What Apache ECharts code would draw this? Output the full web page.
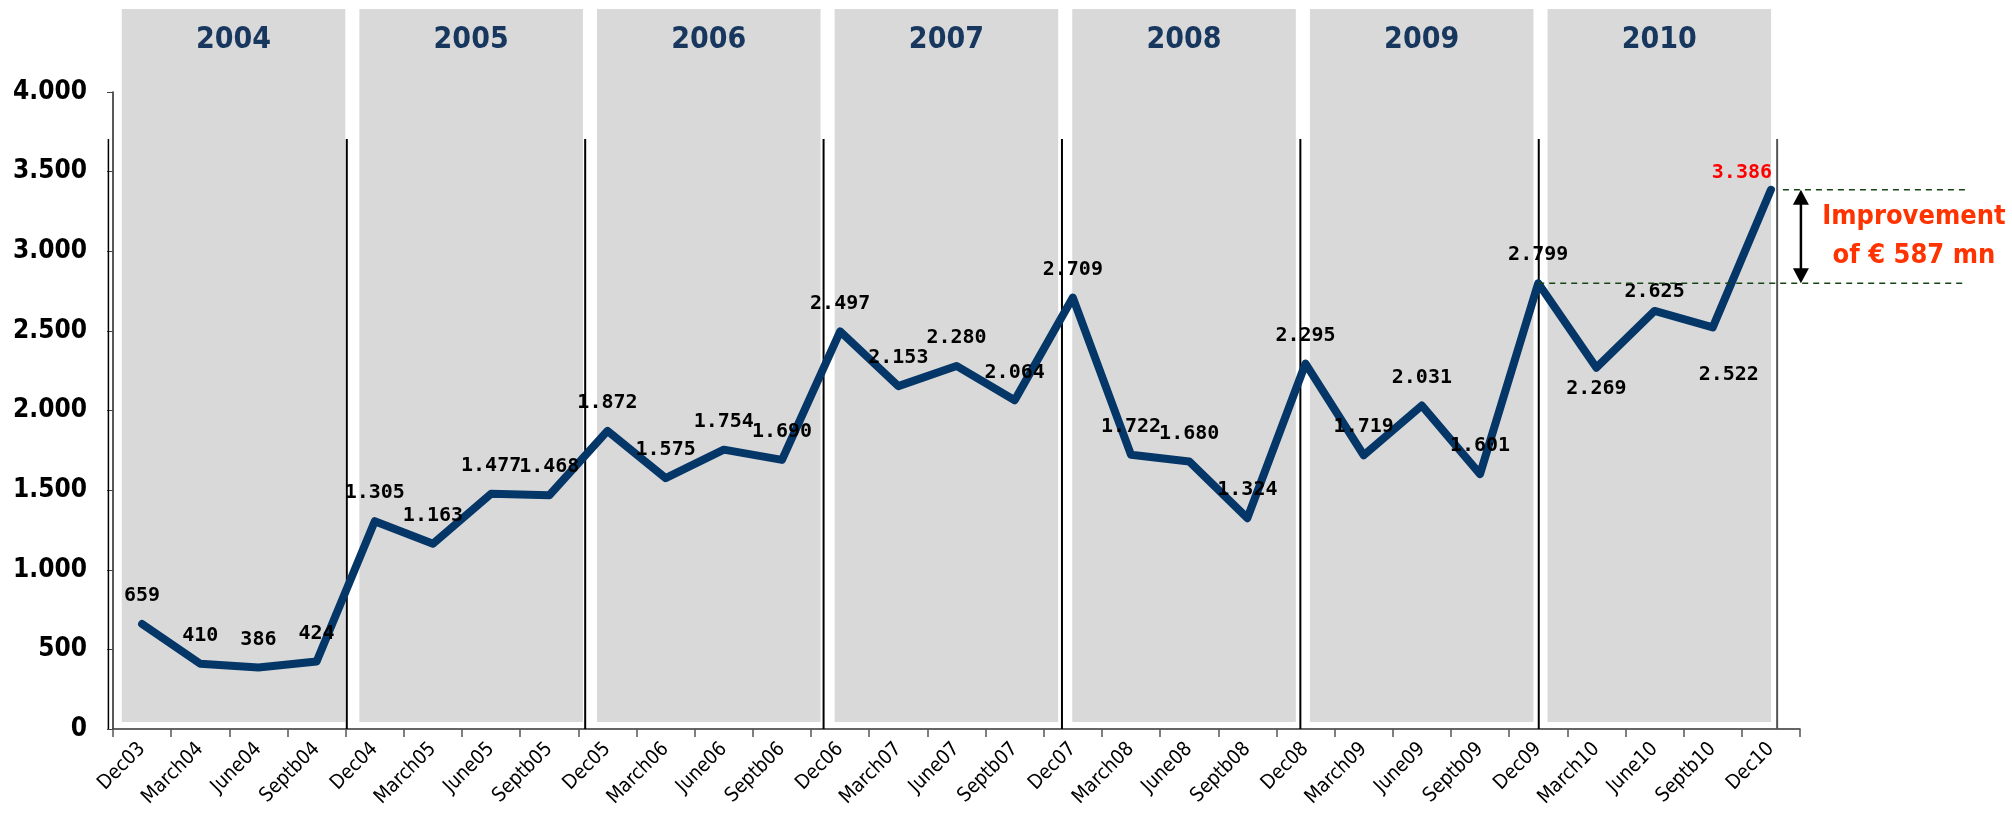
<!DOCTYPE html>
<html>
<head>
<meta charset="utf-8">
<script src="https://cdn.jsdelivr.net/npm/echarts@6/dist/echarts.min.js"></script>
<style>
  html, body { margin: 0; padding: 0; background: #fff; }
  #chart { width: 2012px; height: 819px; }
</style>
</head>
<body>
<div id="chart"></div>
<script>
// quarters on the x axis
const quarters = [
  'Dec03', 'March04', 'June04', 'Septb04',
  'Dec04', 'March05', 'June05', 'Septb05',
  'Dec05', 'March06', 'June06', 'Septb06',
  'Dec06', 'March07', 'June07', 'Septb07',
  'Dec07', 'March08', 'June08', 'Septb08',
  'Dec08', 'March09', 'June09', 'Septb09',
  'Dec09', 'March10', 'June10', 'Septb10',
  'Dec10'
];
// values
const values = [
  659, 410, 386, 424,
  1305, 1163, 1477, 1468,
  1872, 1575, 1754, 1690,
  2497, 2153, 2280, 2064,
  2709, 1722, 1680, 1324,
  2295, 1719, 2031, 1601,
  2799, 2269, 2625, 2522,
  3386
];
const years = ['2004', '2005', '2006', '2007', '2008', '2009', '2010'];
const yTicks = [0, 500, 1000, 1500, 2000, 2500, 3000, 3500, 4000];

// overlay layout (in category bands); the year panels drift a bit from the axis bands
const BOX_START = 0.15, BOX_SPAN = 4.085, BOX_W = 3.843;
const SEP_START = -0.079, SEP_SPAN = 4.098;

const NAVY = '#043668';
const fmt = v => String(v).replace(/\B(?=(\d{3})+(?!\d))/g, '.');

var myChart = echarts.init(document.getElementById('chart'));

// the labels that don't sit on top of their point
const lastIdx = quarters.length - 1;
const prevIdx = quarters.indexOf('Dec09');
const lineData = values.map(function (v, i) {
  const q = quarters[i];
  if (q === 'March10') return { value: v, label: { position: 'bottom', distance: 10 } };
  if (q === 'Septb10') return { value: v, label: { position: 'bottom', distance: 36, offset: [16, 0] } };
  if (q === 'June10') return { value: v, label: { distance: 8 } };
  if (i === lastIdx) return { value: v, label: { color: '#ff0000', distance: 6, offset: [-29, 0] } };
  return v;
});

const option = {
  animation: false,
  grid: { left: 113, right: 212, top: 92, bottom: 90 },
  xAxis: {
    type: 'category',
    data: quarters,
    boundaryGap: true,
    axisLine: { lineStyle: { color: '#333', width: 1.5 } },
    axisTick: { show: true, interval: 0, length: 8, lineStyle: { color: '#555', width: 1.5 } },
    axisLabel: {
      interval: 0, rotate: 45, margin: 17,
      fontFamily: 'DejaVu Sans Condensed', fontSize: 20, color: '#000'
    },
    splitLine: { show: false }
  },
  yAxis: {
    type: 'value',
    min: yTicks[0], max: yTicks[yTicks.length - 1], interval: 500,
    axisLine: { show: true, lineStyle: { color: '#222', width: 1.5 } },
    axisTick: { show: true, length: 6, lineStyle: { color: '#444' } },
    axisLabel: {
      margin: 26, formatter: fmt,
      fontFamily: 'DejaVu Sans Condensed', fontWeight: 'bold', fontSize: 26, color: '#000'
    },
    splitLine: { show: false }
  },
  series: [
    {
      // grey year panels with the year on top
      name: 'years',
      type: 'custom',
      clip: false,
      z: 0,
      silent: true,
      data: years.map((y, k) => [k]),
      renderItem: function (params, api) {
        const cs = params.coordSys;
        const band = api.size([1, 0])[0];
        const left = api.coord([0, 0])[0] - band / 2;
        const k = params.dataIndex;
        const x = left + (BOX_START + k * BOX_SPAN) * band;
        const w = BOX_W * band;
        return {
          type: 'group',
          children: [
            { type: 'rect', shape: { x: x, y: cs.y - 83, width: w, height: cs.height + 76 },
              style: { fill: '#d9d9d9' } },
            { type: 'text', x: x + w / 2, y: cs.y - 52,
              style: { text: years[k], fill: '#17375e', align: 'center', verticalAlign: 'middle',
                       font: 'bold 30px "DejaVu Sans Condensed"' } }
          ]
        };
      }
    },
    {
      // black year separators
      name: 'separators',
      type: 'custom',
      clip: false,
      z: 1,
      silent: true,
      data: years.concat(['end']).map((y, k) => [k]),
      renderItem: function (params, api) {
        const cs = params.coordSys;
        const band = api.size([1, 0])[0];
        const left = api.coord([0, 0])[0] - band / 2;
        const k = params.dataIndex;
        const x = left + (SEP_START + k * SEP_SPAN) * band;
        return {
          type: 'line',
          shape: { x1: x, y1: cs.y + 47, x2: x, y2: cs.y + cs.height },
          style: { stroke: k === years.length ? '#555' : '#000', lineWidth: k === 0 ? 1.5 : 2 }
        };
      }
    },
    {
      name: 'value',
      type: 'line',
      z: 3,
      data: lineData,
      symbol: 'circle',
      symbolSize: 2,
      itemStyle: { color: NAVY },
      lineStyle: { color: NAVY, width: 8, cap: 'round', join: 'round' },
      label: {
        show: true, position: 'top', distance: 17,
        formatter: p => fmt(p.value),
        fontFamily: 'DejaVu Sans Mono', fontWeight: 'bold', fontSize: 20, color: '#000'
      }
    },
    {
      // improvement bracket between Dec09 and Dec10
      name: 'improvement',
      type: 'custom',
      clip: false,
      z: 4,
      silent: true,
      data: [[prevIdx, values[prevIdx], lastIdx, values[lastIdx]]],
      renderItem: function (params, api) {
        const p0 = api.coord([api.value(0), api.value(1)]);
        const p1 = api.coord([api.value(2), api.value(3)]);
        const ax = p1[0] + 30;
        const dash = { stroke: '#174417', lineWidth: 1.5, lineDash: [6, 5] };
        const diff = values[lastIdx] - values[prevIdx];
        return {
          type: 'group',
          children: [
            { type: 'line', shape: { x1: p1[0] + 12, y1: p1[1], x2: p1[0] + 197, y2: p1[1] }, style: dash },
            { type: 'line', shape: { x1: p0[0], y1: p0[1], x2: p1[0] + 192, y2: p0[1] }, style: dash },
            { type: 'line', shape: { x1: ax, y1: p1[1] + 8, x2: ax, y2: p0[1] - 8 },
              style: { stroke: '#000', lineWidth: 2.5 } },
            { type: 'polygon', shape: { points: [[ax, p1[1]], [ax - 8, p1[1] + 15], [ax + 8, p1[1] + 15]] },
              style: { fill: '#000' } },
            { type: 'polygon', shape: { points: [[ax, p0[1]], [ax - 8, p0[1] - 15], [ax + 8, p0[1] - 15]] },
              style: { fill: '#000' } },
            { type: 'text', x: p1[0] + 143, y: (p0[1] + p1[1]) / 2,
              style: { text: 'Improvement\nof € ' + diff + ' mn', fill: '#ff3300',
                       align: 'center', verticalAlign: 'middle', lineHeight: 39,
                       font: 'bold 27px "DejaVu Sans Condensed"' } }
          ]
        };
      }
    }
  ]
};
myChart.setOption(option);
</script>
</body>
</html>
